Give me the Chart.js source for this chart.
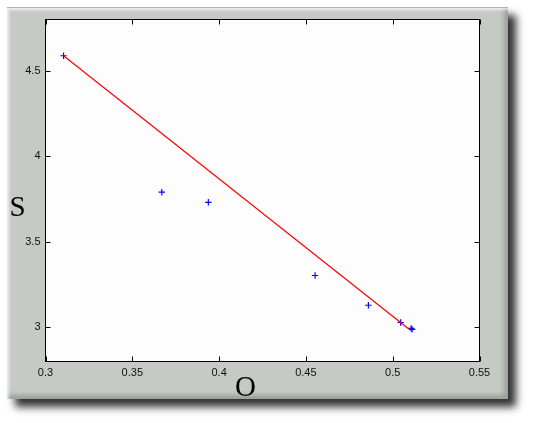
<!DOCTYPE html>
<html>
<head>
<meta charset="utf-8">
<script src="https://cdn.jsdelivr.net/npm/chart.js@4/dist/chart.umd.min.js"></script>
<style>
  html, body { margin:0; padding:0; background:#ffffff; width:533px; height:423px; overflow:hidden; }
  #frame {
    position:absolute; left:7px; top:7px; width:501px; height:392px;
    background:#c6cac4;
    box-shadow: 8px 8px 8px rgba(0,0,0,0.8),
                inset 2px 2px 3px rgba(255,255,255,0.7),
                inset -4px -4px 5px rgba(0,0,0,0.22);
    border-top:1px solid #b0b4ae;
    box-sizing:border-box;
  }
  #c { position:absolute; left:0; top:0; }
</style>
</head>
<body>
<div id="frame"></div>
<canvas id="c" width="533" height="423"></canvas>
<script>
// ---- data ----
const obsX = [0.3104, 0.3670, 0.3938, 0.4553, 0.4860, 0.5046, 0.5106, 0.5112];
const obsY = [4.588, 3.790, 3.731, 3.303, 3.129, 3.028, 2.994, 2.988];
const fitX = [0.3104, 0.5100];
const fitY = [4.588, 2.984];
const xTicks = [0.3, 0.35, 0.4, 0.45, 0.5, 0.55];
const yTicks = [3, 3.5, 4, 4.5];
const xTitle = 'O';
const yTitle = 'S';

const obsPts = obsX.map((x, i) => ({ x: x, y: obsY[i] }));
const fitPts = fitX.map((x, i) => ({ x: x, y: fitY[i] }));

const tickFont = { family: "'Liberation Sans', Arial, sans-serif", size: 11 };

const boxPlugin = {
  id: 'boxPlugin',
  beforeDatasetsDraw(chart) {
    const a = chart.chartArea, ctx = chart.ctx;
    ctx.save();
    ctx.fillStyle = '#fdfdfd';
    ctx.fillRect(a.left, a.top, a.right - a.left, a.bottom - a.top);
    ctx.restore();
  },
  afterDraw(chart) {
    const a = chart.chartArea, ctx = chart.ctx;
    const xs = chart.scales.x, ys = chart.scales.y;
    const tl = 5;
    ctx.save();
    ctx.strokeStyle = '#000';
    ctx.lineWidth = 1;
    ctx.strokeRect(a.left, a.top, a.right - a.left, a.bottom - a.top);
    ctx.beginPath();
    xTicks.forEach(v => {
      const p = Math.round(xs.getPixelForValue(v)) + 0.5;
      ctx.moveTo(p, a.bottom); ctx.lineTo(p, a.bottom - tl);
      ctx.moveTo(p, a.top); ctx.lineTo(p, a.top + tl);
    });
    yTicks.forEach(v => {
      const p = Math.round(ys.getPixelForValue(v)) + 0.5;
      ctx.moveTo(a.left, p); ctx.lineTo(a.left + tl, p);
      ctx.moveTo(a.right, p); ctx.lineTo(a.right - tl, p);
    });
    ctx.stroke();
    // axis titles
    ctx.fillStyle = '#000';
    ctx.font = "29px 'Liberation Serif', 'Times New Roman', serif";
    ctx.textAlign = 'center';
    ctx.textBaseline = 'middle';
    ctx.fillText(xTitle, 245.5, 388);
    ctx.fillText(yTitle, 17.5, 208);
    ctx.restore();
  }
};

new Chart(document.getElementById('c'), {
  type: 'scatter',
  data: {
    datasets: [
      {
        type: 'line',
        data: fitPts,
        borderColor: '#ff0000',
        borderWidth: 1.2,
        pointRadius: 0,
        fill: false,
        tension: 0
      },
      {
        data: obsPts,
        pointStyle: 'cross',
        pointRadius: 3.2,
        borderColor: '#0000ff',
        backgroundColor: '#0000ff',
        pointBorderWidth: 1.2,
        showLine: false
      }
    ]
  },
  options: {
    responsive: false,
    animation: false,
    devicePixelRatio: 1,
    layout: { padding: { left: 0, top: 19.5, right: 53.5, bottom: 0 } },
    plugins: { legend: { display: false }, tooltip: { enabled: false } },
    scales: {
      x: {
        type: 'linear', min: 0.3, max: 0.55,
        afterBuildTicks: s => { s.ticks = xTicks.map(v => ({ value: v })); },
        afterFit: s => { s.height = 61.5; },
        grid: { display: false, drawTicks: false },
        border: { display: false },
        ticks: { font: tickFont, color: '#111', padding: 5, maxRotation: 0, autoSkip: false,
                 callback: v => String(v) }
      },
      y: {
        type: 'linear', min: 2.8, max: 4.8,
        afterBuildTicks: s => { s.ticks = yTicks.map(v => ({ value: v })); },
        afterFit: s => { s.width = 45.5; },
        grid: { display: false, drawTicks: false },
        border: { display: false },
        ticks: { font: tickFont, color: '#111', padding: 5, autoSkip: false,
                 callback: v => String(v) }
      }
    }
  },
  plugins: [boxPlugin]
});
</script>
</body>
</html>
